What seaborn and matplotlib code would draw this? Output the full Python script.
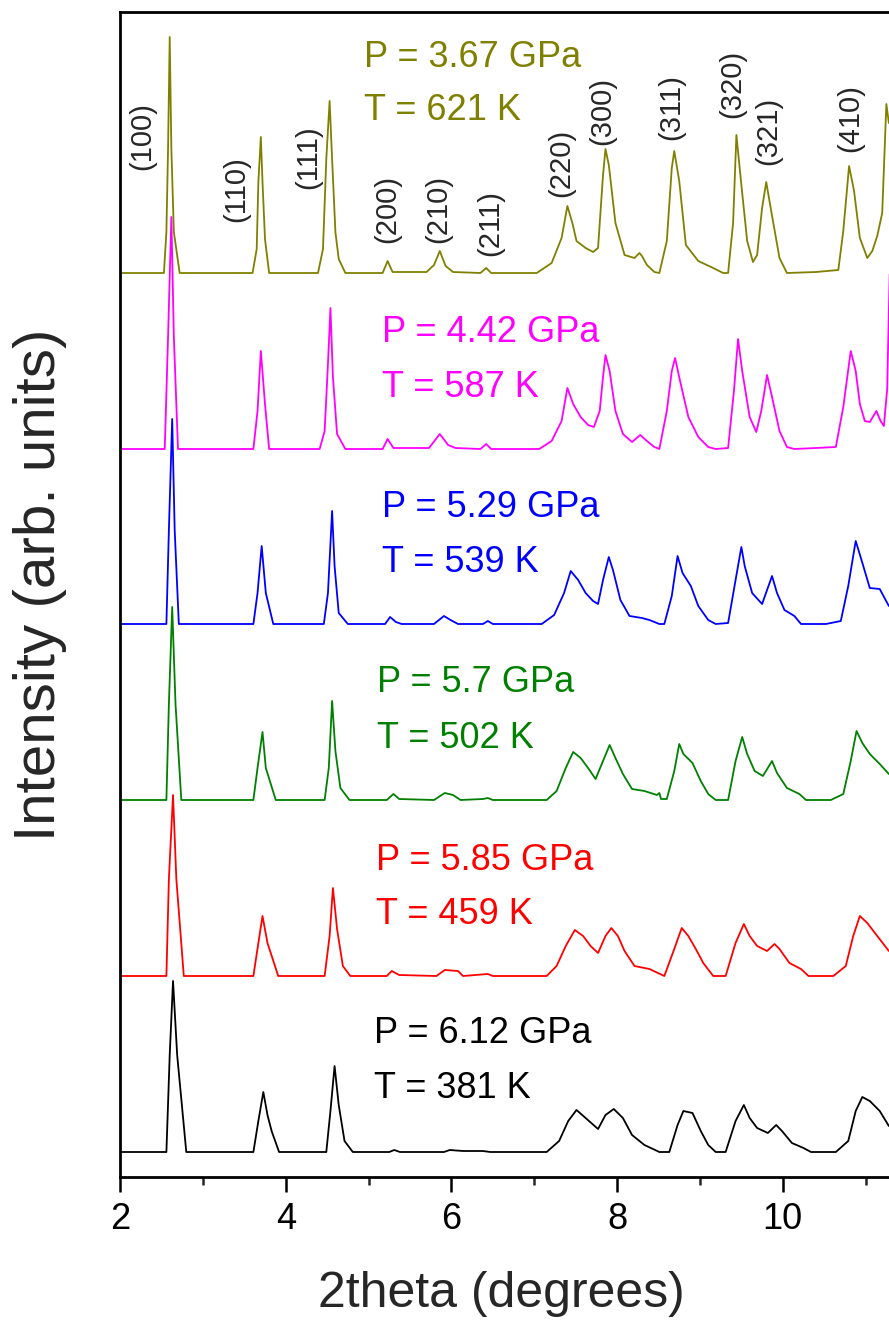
import matplotlib
matplotlib.use('Agg')
import matplotlib.pyplot as plt
import numpy as np
import pandas as pd
import seaborn as sns

# traced XRD patterns, 2theta in degrees, intensity in arb. units above each baseline
x_367 = [2.00, 2.53, 2.56, 2.58, 2.60, 2.62, 2.65, 2.72,
         3.60, 3.65, 3.67, 3.70, 3.72, 3.75, 3.80,
         4.39, 4.45, 4.49, 4.53, 4.56, 4.60, 4.64, 4.72,
         5.17, 5.23, 5.29, 5.70, 5.79, 5.86, 5.93, 6.02, 6.35, 6.42, 6.48,
         7.03, 7.21, 7.33, 7.40, 7.46, 7.51, 7.62, 7.71, 7.77, 7.83, 7.86, 7.90, 7.98,
         8.09, 8.21, 8.27, 8.30, 8.36, 8.45, 8.51,
         8.60, 8.66, 8.69, 8.75, 8.83, 8.98, 9.16, 9.28, 9.34,
         9.40, 9.44, 9.50, 9.57, 9.64, 9.69, 9.75, 9.80, 9.86, 9.96, 10.05,
         10.40, 10.67, 10.73, 10.80, 10.86, 10.93, 11.02, 11.08, 11.14, 11.20, 11.25, 11.28]
i_367 = [0, 0, 41, 124, 236, 124, 41, 0,
         0, 24, 91, 136, 91, 34, 0,
         0, 24, 114, 172, 114, 41, 14, 0,
         0, 12, 1, 1, 8, 22, 7, 1, 0, 5, 0,
         0, 10, 35, 67, 50, 32, 25, 21, 25, 98, 124, 108, 50,
         18, 15, 20, 17, 8, 1, 0,
         32, 105, 122, 92, 28, 12, 5, 0, 0,
         50, 138, 88, 32, 11, 18, 65, 91, 62, 15, 0,
         1, 3, 42, 107, 82, 35, 15, 22, 37, 60, 169, 150]

x_442 = [2.00, 2.54, 2.58, 2.62, 2.65, 2.70,
         3.61, 3.66, 3.70, 3.75, 3.80,
         4.41, 4.47, 4.51, 4.54, 4.57, 4.62, 4.72,
         5.17, 5.23, 5.30, 5.73, 5.86, 5.96, 6.05, 6.35, 6.42, 6.48,
         7.06, 7.21, 7.33, 7.40, 7.47, 7.56, 7.65, 7.72, 7.79, 7.83, 7.86, 7.91, 7.98,
         8.07, 8.18, 8.28, 8.36, 8.45, 8.51,
         8.60, 8.66, 8.70, 8.76, 8.86, 8.98, 9.10, 9.19, 9.34,
         9.41, 9.46, 9.51, 9.60, 9.68, 9.74, 9.81, 9.87, 9.96, 10.05, 10.14,
         10.40, 10.64, 10.73, 10.82, 10.88, 10.93, 10.99, 11.05, 11.13, 11.18, 11.22, 11.26, 11.29]
i_442 = [0, 0, 112, 232, 112, 0,
         0, 38, 98, 45, 0,
         0, 18, 85, 141, 72, 15, 0,
         0, 10, 1, 1, 15, 4, 1, 0, 5, 0,
         0, 8, 28, 61, 45, 32, 24, 22, 38, 72, 94, 78, 38,
         15, 7, 14, 8, 2, 0,
         38, 78, 91, 68, 32, 12, 2, 0, 1,
         58, 110, 78, 32, 17, 38, 74, 52, 18, 2, 0,
         1, 2, 42, 98, 78, 45, 28, 27, 38, 28, 23, 60, 175]

x_529 = [2.00, 2.56, 2.59, 2.63, 2.66, 2.71,
         3.61, 3.66, 3.71, 3.76, 3.85,
         4.46, 4.51, 4.56, 4.59, 4.64, 4.75,
         5.20, 5.26, 5.33, 5.40, 5.79, 5.91, 5.99, 6.08, 6.38, 6.44, 6.50,
         7.09, 7.24, 7.36, 7.44, 7.53, 7.62, 7.71, 7.77, 7.83, 7.90, 7.95,
         8.04, 8.15, 8.30, 8.39, 8.51, 8.57,
         8.66, 8.73, 8.79, 8.89, 8.98, 9.10, 9.19, 9.34,
         9.43, 9.50, 9.54, 9.63, 9.75, 9.81, 9.87, 9.93, 10.02, 10.14, 10.22,
         10.52, 10.70, 10.79, 10.88, 10.95, 11.05, 11.17, 11.28]
i_529 = [0, 0, 94, 205, 94, 0,
         0, 31, 78, 31, 0,
         0, 31, 113, 58, 11, 0,
         0, 7, 2, 0, 0, 8, 4, 0, 0, 3, 0,
         0, 9, 31, 53, 44, 31, 23, 20, 44, 67, 54,
         24, 8, 6, 4, 0, 0,
         28, 68, 51, 38, 18, 4, 0, 1,
         44, 77, 58, 31, 20, 34, 48, 31, 14, 8, 0,
         0, 3, 38, 83, 64, 36, 35, 18]

x_570 = [2.00, 2.56, 2.59, 2.63, 2.67, 2.74,
         3.61, 3.66, 3.72, 3.76, 3.88,
         4.47, 4.52, 4.56, 4.60, 4.66, 4.77,
         5.22, 5.30, 5.37, 5.79, 5.92, 6.02, 6.11, 6.38, 6.44, 6.50,
         7.15, 7.27, 7.38, 7.47, 7.56, 7.65, 7.74, 7.83, 7.91, 7.98,
         8.07, 8.18, 8.33, 8.48, 8.51, 8.53, 8.60,
         8.69, 8.75, 8.80, 8.91, 9.01, 9.10, 9.19, 9.34,
         9.43, 9.51, 9.57, 9.66, 9.76, 9.87, 9.93, 10.05, 10.20, 10.28,
         10.58, 10.73, 10.82, 10.89, 10.96, 11.05, 11.17, 11.28]
i_570 = [0, 0, 96, 193, 96, 0,
         0, 32, 68, 32, 0,
         0, 32, 99, 49, 12, 0,
         0, 6, 1, 0, 7, 5, 0, 1, 2, 0,
         0, 9, 32, 48, 42, 32, 21, 39, 55, 42,
         26, 11, 9, 5, 7, 1, 1,
         29, 56, 46, 37, 19, 6, 0, 0,
         39, 63, 46, 29, 24, 39, 27, 12, 6, 0,
         0, 6, 39, 69, 57, 46, 36, 26]

x_585 = [2.00, 2.56, 2.59, 2.64, 2.68, 2.77,
         3.61, 3.67, 3.72, 3.78, 3.91,
         4.47, 4.53, 4.57, 4.62, 4.69, 4.78,
         5.22, 5.28, 5.37, 5.82, 5.92, 6.08, 6.14, 6.44, 6.50,
         7.15, 7.27, 7.38, 7.49, 7.59, 7.68, 7.77, 7.86, 7.93, 8.01,
         8.09, 8.21, 8.39, 8.57,
         8.69, 8.78, 8.86, 8.95, 9.04, 9.16, 9.31,
         9.43, 9.53, 9.60, 9.69, 9.81, 9.90, 9.96, 10.08, 10.22, 10.31,
         10.61, 10.76, 10.85, 10.93, 11.02, 11.14, 11.28]
i_585 = [0, 0, 97, 181, 97, 0,
         0, 33, 60, 33, 0,
         0, 40, 88, 47, 10, 0,
         0, 5, 1, 0, 6, 5, 0, 2, 0,
         0, 10, 30, 46, 40, 30, 23, 40, 48, 40,
         25, 10, 7, 0,
         27, 48, 40, 27, 13, 0, 0,
         33, 52, 40, 30, 25, 32, 27, 13, 7, 0,
         0, 10, 40, 60, 53, 40, 25]

x_612 = [2.00, 2.56, 2.60, 2.64, 2.69, 2.80,
         3.61, 3.67, 3.73, 3.78, 3.83, 3.92,
         4.49, 4.54, 4.59, 4.64, 4.71, 4.81,
         5.25, 5.31, 5.38, 5.91, 5.98, 6.14, 6.38, 6.47,
         7.15, 7.30, 7.41, 7.51, 7.62, 7.77, 7.86, 7.96, 8.07,
         8.18, 8.33, 8.51, 8.63,
         8.73, 8.80, 8.91, 9.01, 9.10, 9.19, 9.31,
         9.43, 9.53, 9.60, 9.69, 9.82, 9.92, 9.99, 10.11, 10.25, 10.34,
         10.64, 10.79, 10.88, 10.96, 11.05, 11.17, 11.28]
i_612 = [0, 0, 97, 171, 97, 0,
         0, 31, 60, 37, 21, 0,
         0, 41, 86, 47, 11, 0,
         0, 2, 0, 0, 2, 1, 1, 0,
         0, 11, 31, 42, 34, 23, 37, 43, 34,
         17, 7, 0, 0,
         27, 41, 39, 21, 7, 0, 0,
         31, 47, 34, 24, 19, 27, 21, 9, 4, 0,
         0, 11, 41, 55, 51, 41, 26]

runs = ['3.67', '4.42', '5.29', '5.7', '5.85', '6.12']
temps = ['621', '587', '539', '502', '459', '381']
offsets = [879, 703, 528, 352, 176, 0]
colors = ['#808000', '#ff00ff', '#0000ff', '#008000', '#ff0000', '#000000']

# annotation anchors (x in degrees, baseline heights in arb. units)
label_x = [4.95, 5.16, 5.16, 5.10, 5.09, 5.07]
label_p_y = [1085, 810, 635, 460, 282, 109]
label_t_y = [1032, 755, 580, 404, 228, 54]

hkl = ['(100)', '(110)', '(111)', '(200)', '(210)', '(211)',
       '(220)', '(300)', '(311)', '(320)', '(321)', '(410)']
hkl_x = [2.27, 3.40, 4.27, 5.22, 5.84, 6.47, 7.33, 7.82, 8.65, 9.39, 9.83, 10.81]
hkl_y = [1016, 963, 995, 943, 943, 929, 989, 1041, 1045, 1068, 1021, 1034]

xs_all = [x_367, x_442, x_529, x_570, x_585, x_612]
is_all = [i_367, i_442, i_529, i_570, i_585, i_612]

frames = []
for run, xs, ys, off in zip(runs, xs_all, is_all, offsets):
    frames.append(pd.DataFrame({'two_theta': xs,
                                'intensity': np.array(ys, dtype=float) + off,
                                'run': run}))
df = pd.concat(frames, ignore_index=True)

sns.set_style('ticks')
plt.rcParams['font.family'] = ['Liberation Sans', 'DejaVu Sans']

fig = plt.figure(figsize=(8.89, 13.2), dpi=100)
ax = fig.add_axes([120 / 889, 143 / 1320, 828.5 / 889, 1165 / 1320])

sns.lineplot(data=df, x='two_theta', y='intensity', hue='run',
             palette=dict(zip(runs, colors)), estimator=None, sort=False,
             legend=False, linewidth=1.3, ax=ax)
for line in ax.get_lines():
    line.set_solid_joinstyle('round')

for c, p, t, lx, py, ty in zip(colors, runs, temps, label_x, label_p_y, label_t_y):
    ax.text(lx, py, f'P = {p} GPa', color=c, fontsize=26, va='baseline', ha='left')
    ax.text(lx, ty, f'T = {t} K', color=c, fontsize=26, va='baseline', ha='left')

for lab, hx, hy in zip(hkl, hkl_x, hkl_y):
    ax.text(hx, hy, lab, rotation=90, fontsize=21, ha='center', va='center')

ax.set_xlim(2, 12)
ax.set_ylim(-25, 1140)
ax.set_xticks([2, 4, 6, 8, 10])
ax.set_xticks([3, 5, 7, 9, 11], minor=True)
ax.set_yticks([])
ax.tick_params(axis='x', which='major', direction='out', length=11, width=1.8,
               labelsize=26, pad=7, colors='black')
ax.tick_params(axis='x', which='minor', direction='out', length=6, width=1.8)
for side in ['left', 'bottom', 'top', 'right']:
    ax.spines[side].set_linewidth(2)
    ax.spines[side].set_color('black')

ax.set_xlabel('2theta (degrees)', fontsize=36, va='baseline')
ax.xaxis.set_label_coords(0.46, -0.1116)
ax.set_ylabel('Intensity (arb. units)', fontsize=42, va='center', ha='center')
ax.yaxis.set_label_coords(-0.0966, 0.508)

fig.savefig('out.png', dpi=100)
